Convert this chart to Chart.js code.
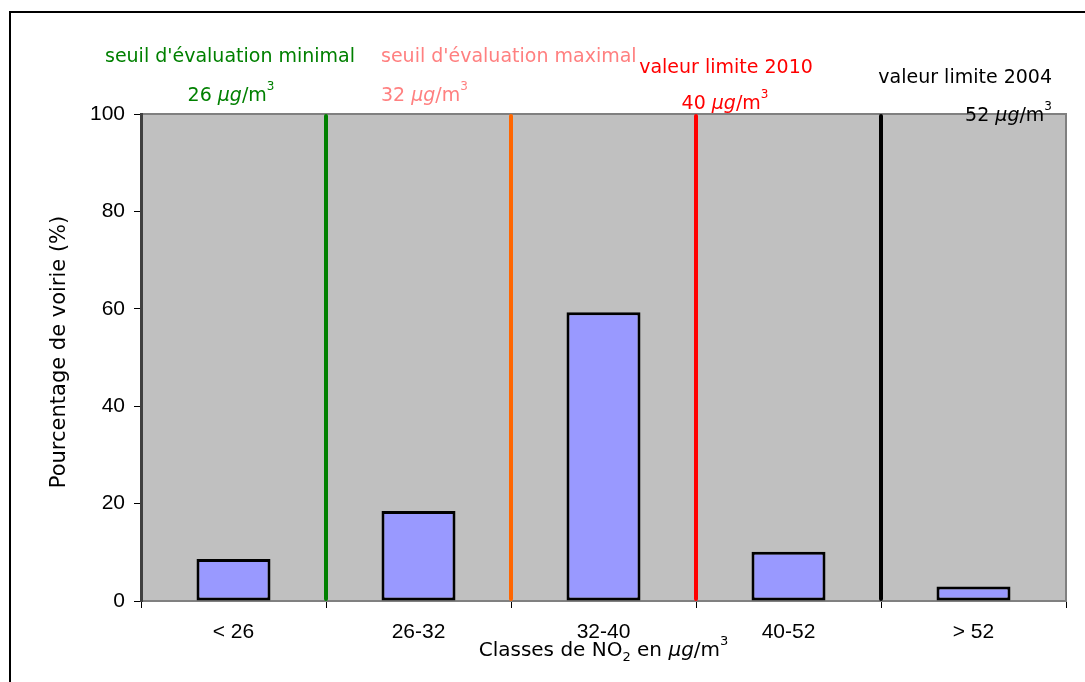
<!DOCTYPE html>
<html>
<head>
<meta charset="utf-8">
<script src="https://cdn.jsdelivr.net/npm/chart.js@4.4.0/dist/chart.umd.min.js"></script>
<style>
  html, body { margin: 0; padding: 0; background: #fff; }
  #wrap { position: relative; width: 1085px; height: 682px; }
</style>
</head>
<body>
<div id="wrap"><canvas id="chart" width="1085" height="682"></canvas></div>
<script>
// data
const classes = ['< 26', '26-32', '32-40', '40-52', '> 52'];
const pctVoirie = [8.6, 18.5, 59.3, 10.1, 3.0];
const yTicks = [0, 20, 40, 60, 80, 100];

// threshold lines sit between the classes
const seuilPos = [0.5, 1.5, 2.5, 3.5];
const seuilColors = ['#008000', '#ff6600', '#ff0000', '#000000'];
const seuilTitles = ["seuil d'évaluation minimal", "seuil d'évaluation maximal", 'valeur limite 2010', 'valeur limite 2004'];
const seuilValues = ['26', '32', '40', '52'];
const seuilTextColors = ['#008000', '#ff8080', '#ff0000', '#000000'];

const comic = '"DejaVu Sans", sans-serif';
const arial = '"Liberation Sans", Arial, sans-serif';

// title / value placement for each label: [x, y, align]
const titlePlace = [[230, 57, 'center'], [381, 57, 'left'], [726, 68, 'center'], [1052, 78, 'right']];
const valuePlace = [[231, 96, 'center'], [381, 96, 'left'], [725, 104, 'center'], [1052, 116, 'right']];

// draws text pieces side by side (italic µ, sub/superscripts)
function drawPieces(ctx, pieces, x, y, align) {
  let total = 0;
  pieces.forEach(p => { ctx.font = p.font; total += ctx.measureText(p.t).width; });
  let cx = align === 'center' ? x - total / 2 : align === 'right' ? x - total : x;
  ctx.textAlign = 'left';
  pieces.forEach(p => {
    ctx.font = p.font;
    ctx.fillText(p.t, cx, y + (p.dy || 0));
    cx += ctx.measureText(p.t).width;
  });
}

function unitPieces(num, size) {
  return [
    { t: num + ' ', font: `${size}px ${comic}` },
    { t: 'µg', font: `italic ${size}px ${comic}` },
    { t: '/m', font: `${size}px ${comic}` },
    { t: '3', font: `${Math.round(size * 0.62)}px ${comic}`, dy: -9 }
  ];
}

const decorPlugin = {
  id: 'decor',
  beforeDraw(chart) {
    const { ctx, chartArea: a } = chart;
    ctx.save();
    // outer frame
    ctx.strokeStyle = '#000';
    ctx.lineWidth = 2;
    ctx.beginPath();
    ctx.moveTo(10, 682);
    ctx.lineTo(10, 12);
    ctx.lineTo(1085, 12);
    ctx.stroke();
    // plot background
    ctx.fillStyle = '#c0c0c0';
    ctx.fillRect(a.left, a.top, a.right - a.left, a.bottom - a.top);
    ctx.strokeStyle = '#808080';
    ctx.lineWidth = 2;
    ctx.beginPath();
    ctx.moveTo(a.left, a.top);
    ctx.lineTo(a.right, a.top);
    ctx.lineTo(a.right, a.bottom);
    ctx.stroke();
    ctx.restore();
  },
  afterDatasetsDraw(chart) {
    const { ctx, chartArea: a, scales } = chart;
    ctx.save();
    // threshold lines
    ctx.lineWidth = 4;
    ctx.lineCap = 'round';
    seuilPos.forEach((p, i) => {
      const x = Math.round(scales.x.getPixelForValue(p));
      ctx.strokeStyle = seuilColors[i];
      ctx.beginPath();
      ctx.moveTo(x, a.top + 2);
      ctx.lineTo(x, a.bottom - 2);
      ctx.stroke();
    });
    // threshold labels
    ctx.textBaseline = 'middle';
    seuilTitles.forEach((t, i) => {
      ctx.fillStyle = seuilTextColors[i];
      ctx.font = `19px ${comic}`;
      ctx.textAlign = titlePlace[i][2];
      ctx.fillText(t, titlePlace[i][0], titlePlace[i][1]);
      drawPieces(ctx, unitPieces(seuilValues[i], 19), valuePlace[i][0], valuePlace[i][1], valuePlace[i][2]);
    });
    // axis titles
    ctx.fillStyle = '#000';
    drawPieces(ctx, [
      { t: 'Classes de NO', font: `20px ${comic}` },
      { t: '2', font: `13px ${comic}`, dy: 7 },
      { t: ' en ', font: `20px ${comic}` },
      { t: 'µg', font: `italic 20px ${comic}` },
      { t: '/m', font: `20px ${comic}` },
      { t: '3', font: `13px ${comic}`, dy: -9 }
    ], (a.left + a.right) / 2, 651, 'center');
    ctx.translate(60, 352);
    ctx.rotate(-Math.PI / 2);
    ctx.font = `21px ${comic}`;
    ctx.textAlign = 'center';
    ctx.fillText('Pourcentage de voirie (%)', 0, 0);
    ctx.restore();
  }
};

const ctx = document.getElementById('chart').getContext('2d');
const chart = new Chart(ctx, {
  type: 'bar',
  data: {
    labels: classes,
    datasets: [{
      data: pctVoirie,
      backgroundColor: '#9999ff',
      borderColor: '#000',
      borderWidth: 3,
      borderSkipped: false,
      barPercentage: 0.4,
      categoryPercentage: 1
    }]
  },
  options: {
    responsive: false,
    animation: false,
    layout: { padding: { top: 114, right: 19, left: 0, bottom: 0 } },
    plugins: { legend: { display: false }, tooltip: { enabled: false } },
    scales: {
      x: {
        grid: { display: true, drawOnChartArea: false, offset: true, tickLength: 7, color: '#000', lineWidth: 1 },
        border: { color: '#808080', width: 2 },
        ticks: { color: '#000', font: { family: arial, size: 21 }, padding: 12 },
        afterFit(s) { s.height = 81; }
      },
      y: {
        min: 0,
        max: 100,
        afterBuildTicks(s) { s.ticks = yTicks.map(v => ({ value: v })); },
        grid: { display: true, drawOnChartArea: false, tickLength: 7, color: '#000', lineWidth: 1 },
        border: { color: '#404040', width: 3 },
        ticks: { color: '#000', font: { family: arial, size: 21 }, padding: 9 },
        afterFit(s) { s.width = 141; }
      }
    }
  },
  plugins: [decorPlugin]
});
</script>
</body>
</html>
